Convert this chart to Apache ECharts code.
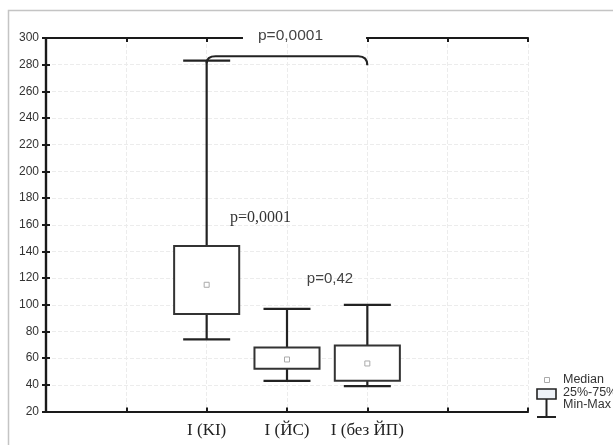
<!DOCTYPE html>
<html>
<head>
<meta charset="utf-8">
<script src="https://cdn.jsdelivr.net/npm/echarts@6/dist/echarts.min.js"></script>
<style>
html,body{margin:0;padding:0;background:#fff;}
#chart{width:613px;height:445px;}
</style>
</head>
<body>
<div id="chart"></div>
<script>
// ---- data ----
const categories = ['', '', 'I (KI)', 'I (ЙС)', 'I (без ЙП)', '', ''];
const xPos = [2, 3, 4];
const minVals = [74, 43, 39];
const q1Vals = [93, 52, 43];
const medianVals = [115, 59, 56];
const q3Vals = [144, 68, 69.5];
const maxVals = [283, 97, 100];
const yMin = 20, yMax = 300, yStep = 20;

// annotations (in data units)
const pTexts = ['p=0,0001', 'p=0,0001', 'p=0,42'];
const pX = [3.044, 2.67, 3.535];
const pY = [302, 165, 119.3];
const bracketX = [2, 4];
const bracketY = [286.3, 279.5];
const gapX = [2.452, 3.984];

const chart = echarts.init(document.getElementById('chart'));

const boxData = xPos.map((x, i) => [x, minVals[i], q1Vals[i], medianVals[i], q3Vals[i], maxVals[i]]);

function renderBox(params, api) {
  const x = api.value(0);
  const pMin = api.coord([x, api.value(1)]);
  const pQ1 = api.coord([x, api.value(2)]);
  const pMed = api.coord([x, api.value(3)]);
  const pQ3 = api.coord([x, api.value(4)]);
  const pMax = api.coord([x, api.value(5)]);
  const unit = api.size([1, 0])[0];
  const bw = unit * 0.81, cw = unit * 0.585;
  const ls = {stroke: '#222', lineWidth: 2.2};
  return {
    type: 'group',
    children: [
      {type: 'line', shape: {x1: pMax[0], y1: pMax[1], x2: pQ3[0], y2: pQ3[1]}, style: ls},
      {type: 'line', shape: {x1: pQ1[0], y1: pQ1[1], x2: pMin[0], y2: pMin[1]}, style: ls},
      {type: 'line', shape: {x1: pMax[0] - cw / 2, y1: pMax[1], x2: pMax[0] + cw / 2, y2: pMax[1]}, style: ls},
      {type: 'line', shape: {x1: pMin[0] - cw / 2, y1: pMin[1], x2: pMin[0] + cw / 2, y2: pMin[1]}, style: ls},
      {type: 'rect', shape: {x: pQ3[0] - bw / 2, y: pQ3[1], width: bw, height: pQ1[1] - pQ3[1]},
        style: {fill: '#fff', stroke: '#333', lineWidth: 2}},
      {type: 'rect', shape: {x: pMed[0] - 2.5, y: pMed[1] - 2.5, width: 5, height: 5},
        style: {fill: '#fff', stroke: '#aaa', lineWidth: 1}}
    ]
  };
}

function renderAnno(params, api) {
  if (params.dataIndex !== 0) return null;
  const children = [];
  const g0 = api.coord([gapX[0], yMax]);
  const g1 = api.coord([gapX[1], yMax]);
  children.push({type: 'rect', shape: {x: g0[0], y: g0[1] - 4, width: g1[0] - g0[0], height: 8},
    style: {fill: '#fff'}, z2: 1});
  const bl = api.coord([bracketX[0], bracketY[0]]);
  const br = api.coord([bracketX[1], bracketY[0]]);
  const bre = api.coord([bracketX[1], bracketY[1]]);
  const r = 9;
  const path = 'M' + bl[0] + ' ' + (bl[1] + 7) +
    ' Q' + bl[0] + ' ' + bl[1] + ' ' + (bl[0] + r) + ' ' + bl[1] +
    ' L' + (br[0] - r) + ' ' + br[1] +
    ' Q' + br[0] + ' ' + br[1] + ' ' + br[0] + ' ' + bre[1];
  children.push({type: 'path', shape: {pathData: path}, style: {fill: null, stroke: '#222', lineWidth: 2.2}});
  const fonts = ['15.5px "Liberation Sans", Arial, sans-serif', '16px "Liberation Serif", "Times New Roman", serif', '15px "Liberation Sans", Arial, sans-serif'];
  const cols = ['#444', '#333', '#444'];
  pTexts.forEach((t, i) => {
    const p = api.coord([pX[i], pY[i]]);
    children.push({type: 'text', x: p[0], y: p[1], z2: 2,
      style: {text: t, font: fonts[i], fill: cols[i], align: 'center', verticalAlign: 'middle'}});
  });
  return {type: 'group', children: children};
}

const axisLine = {show: true, lineStyle: {color: '#1a1a1a', width: 2.2}};
const splitLine = {show: true, lineStyle: {color: '#ececec', type: 'dashed', width: 1}};
const legendFont = '12.5px "Liberation Sans", Arial, sans-serif';

chart.setOption({
  animation: false,
  grid: {left: 46, right: 85, top: 38, bottom: 33.5},
  xAxis: [
    {type: 'value', min: 0, max: categories.length - 1, interval: 1, position: 'bottom',
      axisLine: axisLine, axisTick: {show: true, inside: true, length: 4, lineStyle: {color: '#1a1a1a', width: 2}},
      splitLine: splitLine,
      axisLabel: {margin: 11, color: '#222', fontSize: 17, fontFamily: '"Liberation Serif", "Times New Roman", serif',
        formatter: v => categories[Math.round(v)] || ''}},
    {type: 'value', min: 0, max: categories.length - 1, interval: 1, position: 'top',
      axisLine: axisLine, axisTick: {show: true, inside: true, length: 4, lineStyle: {color: '#1a1a1a', width: 2}},
      splitLine: {show: false}, axisLabel: {show: false}}
  ],
  yAxis: [
    {type: 'value', min: yMin, max: yMax, interval: yStep, position: 'left',
      axisLine: axisLine, axisTick: {show: true, inside: true, length: 4, lineStyle: {color: '#1a1a1a', width: 2}},
      splitLine: splitLine,
      axisLabel: {margin: 7, color: '#333', fontSize: 12, fontFamily: '"Liberation Sans", Arial, sans-serif'}},
    {type: 'value', min: yMin, max: yMax, interval: yStep, position: 'right',
      axisLine: axisLine, axisTick: {show: true, inside: true, length: 4, lineStyle: {color: '#1a1a1a', width: 2}},
      splitLine: {show: false}, axisLabel: {show: false}}
  ],
  graphic: [
    {type: 'rect', shape: {x: 8.5, y: 10.5, width: 800, height: 600}, style: {fill: null, stroke: '#c4c4c4', lineWidth: 1.5}, silent: true},
    {type: 'rect', shape: {x: 544.5, y: 377.5, width: 5, height: 5}, style: {fill: '#fff', stroke: '#aaa', lineWidth: 1}},
    {type: 'text', x: 563, y: 380, style: {text: 'Median', font: legendFont, fill: '#333', verticalAlign: 'middle'}},
    {type: 'rect', shape: {x: 537, y: 389, width: 19, height: 10}, style: {fill: '#eef2f8', stroke: '#222', lineWidth: 1.6}},
    {type: 'text', x: 563, y: 393, style: {text: '25%-75%', font: legendFont, fill: '#333', verticalAlign: 'middle'}},
    {type: 'line', shape: {x1: 546.5, y1: 399, x2: 546.5, y2: 417}, style: {stroke: '#222', lineWidth: 2}},
    {type: 'line', shape: {x1: 537, y1: 417, x2: 556, y2: 417}, style: {stroke: '#222', lineWidth: 2}},
    {type: 'text', x: 563, y: 405, style: {text: 'Min-Max', font: legendFont, fill: '#333', verticalAlign: 'middle'}}
  ],
  series: [
    {type: 'custom', renderItem: renderBox, data: boxData, encode: {x: 0, y: [1, 2, 3, 4, 5]}, z: 3, clip: false},
    {type: 'custom', renderItem: renderAnno, data: [[0, yMin]], z: 5, clip: false, silent: true}
  ]
});
</script>
</body>
</html>
